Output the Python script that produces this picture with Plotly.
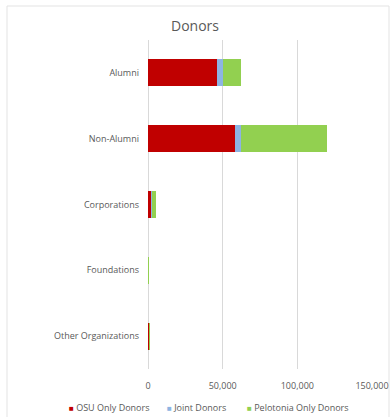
import plotly.graph_objects as go

categories = ["Alumni", "Non-Alumni", "Corporations", "Foundations", "Other Organizations"]
osu_only = [46500, 58500, 2300, 500, 800]
joint = [3500, 4000, 300, 20, 30]
pelotonia_only = [12000, 57500, 3000, 30, 50]
x_ticks = [0, 50000, 100000, 150000]
x_tick_labels = ["0", "50,000", "100,000", "150,000"]

series = [
    ("OSU Only Donors", osu_only, "#C00000"),
    ("Joint Donors", joint, "#8DB4E2"),
    ("Pelotonia Only Donors", pelotonia_only, "#92D050"),
]

fig = go.Figure()
for name, values, color in series:
    fig.add_trace(go.Bar(
        y=categories, x=values, name=name, orientation="h",
        marker=dict(color=color, line=dict(width=0)),
        showlegend=False,
    ))

W, H = 390, 417
L, R, T, B = 148, 18, 40, 48
pw, ph = W - L - R, H - T - B

# light chart-area border
fig.add_shape(
    type="rect", xref="paper", yref="paper", layer="below",
    x0=(7 - L) / pw, x1=(W - 1 - L) / pw,
    y0=-(H + 5 - T - ph) / ph, y1=1 + (T - 6) / ph,
    line=dict(color="#e3e3e3", width=1), fillcolor="rgba(0,0,0,0)",
)

# compact legend row under the axis
legend_x = [67, 165, 245]
for (name, _, color), lx in zip(series, legend_x):
    fig.add_annotation(
        xref="paper", yref="paper", x=(lx - L) / pw, y=-(407 - T - ph) / ph,
        xanchor="left", yanchor="middle", showarrow=False,
        text=f"<span style='color:{color};font-size:8px'>■</span> {name}",
        font=dict(size=9, color="#595959"),
    )

fig.update_layout(
    width=W, height=H,
    margin=dict(l=L, r=R, t=T, b=B, autoexpand=False),
    barmode="stack", bargap=0.59,
    paper_bgcolor="white", plot_bgcolor="white",
    font=dict(family="Open Sans, sans-serif", size=9, color="#595959"),
    title=dict(text="Donors", x=0.5, xref="container", xanchor="center",
               y=1 - 26 / H, yref="container", yanchor="middle",
               font=dict(size=14, color="#595959")),
    showlegend=False,
)
fig.update_xaxes(
    range=[0, 150000], tickvals=x_ticks, ticktext=x_tick_labels,
    showgrid=True, gridcolor="#d9d9d9", gridwidth=1,
    zeroline=True, zerolinecolor="#d9d9d9", zerolinewidth=1,
    showline=False, ticks="", ticklabelstandoff=10, automargin=False,
    tickfont=dict(size=9, color="#595959"),
)
fig.update_yaxes(
    categoryorder="array", categoryarray=categories, autorange="reversed",
    showgrid=False, zeroline=False, showline=False, ticks="",
    ticklabelstandoff=8, automargin=False,
    tickfont=dict(size=9, color="#595959"),
)

fig.write_html("out.html")
